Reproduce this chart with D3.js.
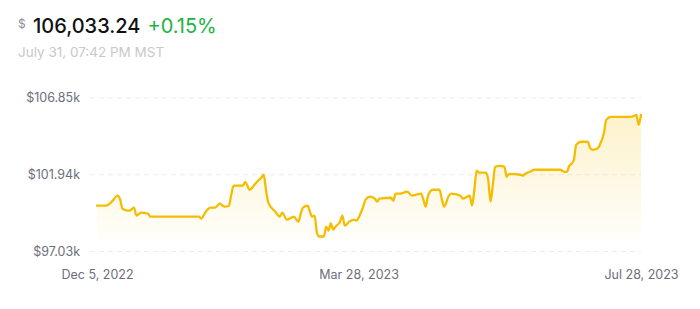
<!DOCTYPE html>
<html>
<head>
<meta charset="utf-8">
<script src="https://cdn.jsdelivr.net/npm/d3@7"></script>
<style>
  body { margin: 0; background: #fff; font-family: Inter, "Noto Sans", sans-serif; }
</style>
</head>
<body>
<div id="chart"></div>
<script>
// header texts
var priceLabel = "106,033.24";
var changeLabel = "+0.15%";
var timeLabel = "July 31, 07:42 PM MST";

// y ticks (in thousands of $)
var yTicks = [97.03, 101.94, 106.85];
// x tick dates
var xTicks = ["2022-12-05", "2023-03-28", "2023-07-28"];

// series
var dates = [
  "2022-12-05","2022-12-09","2022-12-11","2022-12-14","2022-12-15","2022-12-16","2022-12-19","2022-12-21",
  "2022-12-22","2022-12-24","2022-12-27","2022-12-28","2023-01-18","2023-01-19","2023-01-21","2023-01-23",
  "2023-01-25","2023-01-27","2023-01-29","2023-01-31","2023-02-01","2023-02-02","2023-02-06","2023-02-07",
  "2023-02-09","2023-02-11","2023-02-13","2023-02-14","2023-02-15","2023-02-16","2023-02-17","2023-02-20",
  "2023-02-22","2023-02-23","2023-02-25","2023-02-27","2023-02-28","2023-03-02","2023-03-03","2023-03-04",
  "2023-03-06","2023-03-07","2023-03-08","2023-03-09","2023-03-10","2023-03-11","2023-03-13","2023-03-14",
  "2023-03-15","2023-03-16","2023-03-17","2023-03-18","2023-03-20","2023-03-21","2023-03-22","2023-03-24",
  "2023-03-26","2023-03-27","2023-03-29","2023-03-30","2023-03-31","2023-04-02","2023-04-04","2023-04-05",
  "2023-04-06","2023-04-11","2023-04-12","2023-04-13","2023-04-15","2023-04-18","2023-04-20","2023-04-24",
  "2023-04-25","2023-04-26","2023-04-27","2023-04-29","2023-05-02","2023-05-03","2023-05-04","2023-05-06",
  "2023-05-07","2023-05-11","2023-05-12","2023-05-14","2023-05-15","2023-05-16","2023-05-17","2023-05-18",
  "2023-05-19","2023-05-22","2023-05-23","2023-05-24","2023-05-25","2023-05-26","2023-05-28","2023-05-30",
  "2023-05-31","2023-06-01","2023-06-06","2023-06-07","2023-06-08","2023-06-10","2023-06-12","2023-06-23",
  "2023-06-25","2023-06-26","2023-06-27","2023-06-28","2023-06-29","2023-06-30","2023-07-02","2023-07-05",
  "2023-07-06","2023-07-07","2023-07-09","2023-07-10","2023-07-12","2023-07-13","2023-07-15","2023-07-19",
  "2023-07-23","2023-07-25","2023-07-26","2023-07-27","2023-07-28"
];
var values = [
  99.96, 99.96, 100.16, 100.60, 100.35, 99.77, 99.64, 99.84,
  99.33, 99.52, 99.45, 99.26, 99.26, 99.13, 99.58, 99.84,
  99.84, 100.09, 99.90, 99.96, 100.67, 101.24, 101.24, 101.49,
  100.98, 101.30, 101.62, 101.75, 101.94, 100.98, 100.16, 99.58,
  99.26, 99.52, 99.07, 99.20, 99.26, 98.94, 99.45, 99.84,
  99.96, 99.58, 99.26, 99.33, 98.24, 97.99, 97.99, 98.62,
  98.37, 98.82, 98.43, 98.62, 98.94, 99.33, 98.69, 98.94,
  99.07, 99.01, 99.52, 99.90, 100.35, 100.54, 100.41, 100.22,
  100.41, 100.47, 100.28, 100.73, 100.73, 100.86, 100.60, 100.73,
  100.35, 99.90, 100.60, 100.98, 100.98, 100.35, 99.90, 100.60,
  100.73, 100.60, 100.41, 100.54, 100.60, 99.96, 100.98, 102.20,
  102.07, 102.07, 101.62, 100.22, 101.30, 102.45, 102.51, 102.45,
  101.81, 102.00, 101.94, 101.88, 102.00, 102.13, 102.26, 102.26,
  102.13, 102.13, 102.51, 102.64, 102.90, 103.85, 104.05, 104.05,
  103.66, 103.54, 103.60, 103.79, 104.62, 105.45, 105.64, 105.64,
  105.64, 105.70, 105.77, 105.13, 105.77
];

var W = 700, H = 309;
var parse = d3.timeParse("%Y-%m-%d");
var data = dates.map(function(d, i) { return { date: parse(d), value: values[i] }; });

var svg = d3.select("#chart").append("svg")
  .attr("width", W).attr("height", H);

// header
var head = svg.append("text").attr("x", 18).attr("y", 33);
head.append("tspan").text("$")
  .attr("font-size", 12).attr("fill", "#8e8e96").attr("dy", -5);
head.append("tspan").text(priceLabel)
  .attr("x", 33).attr("dy", 5)
  .attr("font-size", 20).attr("font-weight", 500).attr("fill", "#111");
head.append("tspan").text(changeLabel)
  .attr("dx", 7)
  .attr("font-size", 20).attr("fill", "#1bb343");

svg.append("text").attr("x", 18).attr("y", 57)
  .attr("font-size", 13.5).attr("fill", "#c9c9ce")
  .text(timeLabel);

// scales
var x = d3.scaleTime()
  .domain([parse(xTicks[0]), parse(xTicks[2])])
  .range([97, 641]);
var y = d3.scaleLinear()
  .domain([yTicks[0], yTicks[2]])
  .range([251.5, 98]);

// grid lines
svg.append("g").selectAll("line")
  .data(yTicks).enter().append("line")
    .attr("x1", 90).attr("x2", 641)
    .attr("y1", function(d) { return y(d); })
    .attr("y2", function(d) { return y(d); })
    .attr("stroke", "#ececef")
    .attr("stroke-width", 1)
    .attr("stroke-dasharray", "5,4");

// y labels
svg.append("g").selectAll("text")
  .data(yTicks).enter().append("text")
    .attr("x", 80)
    .attr("y", function(d) { return y(d); })
    .attr("dy", "0.35em")
    .attr("text-anchor", "end")
    .attr("font-size", 12.5)
    .attr("fill", "#6e6e7a")
    .text(function(d) { return "$" + d3.format(".2f")(d) + "k"; });

// x labels
var xAxis = svg.append("g")
  .attr("transform", "translate(0,267)")
  .call(d3.axisBottom(x)
    .tickValues(xTicks.map(parse))
    .tickSize(0)
    .tickFormat(d3.timeFormat("%b %-d, %Y")));
xAxis.select(".domain").remove();
xAxis.selectAll("text")
  .attr("font-family", "Inter, 'Noto Sans', sans-serif")
  .attr("font-size", 12.5)
  .attr("fill", "#6e6e7a");

// gradient fill
var defs = svg.append("defs");
var grad = defs.append("linearGradient")
  .attr("id", "fillGrad")
  .attr("gradientUnits", "userSpaceOnUse")
  .attr("x1", 0).attr("x2", 0)
  .attr("y1", y(d3.max(values))).attr("y2", 240);
grad.append("stop").attr("offset", "0%").attr("stop-color", "#f5c000").attr("stop-opacity", 0.2);
grad.append("stop").attr("offset", "100%").attr("stop-color", "#f5c000").attr("stop-opacity", 0.02);

var area = d3.area()
  .x(function(d) { return x(d.date); })
  .y0(240)
  .y1(function(d) { return y(d.value); })
  .curve(d3.curveMonotoneX);

svg.append("path")
  .datum(data)
  .attr("d", area)
  .attr("fill", "url(#fillGrad)");

var line = d3.line()
  .x(function(d) { return x(d.date); })
  .y(function(d) { return y(d.value); })
  .curve(d3.curveMonotoneX);

svg.append("path")
  .datum(data)
  .attr("d", line)
  .attr("fill", "none")
  .attr("stroke", "#f4bd00")
  .attr("stroke-width", 2.3)
  .attr("stroke-linejoin", "round")
  .attr("stroke-linecap", "round");
</script>
</body>
</html>
